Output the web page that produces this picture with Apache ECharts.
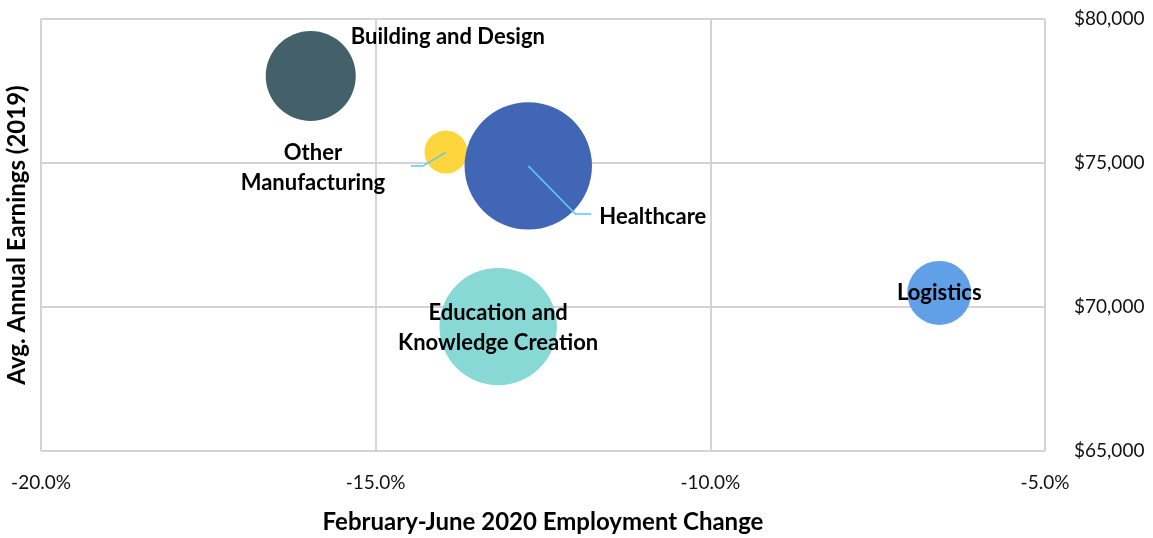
<!DOCTYPE html>
<html>
<head>
<meta charset="utf-8">
<script src="https://cdn.jsdelivr.net/npm/echarts@6/dist/echarts.min.js"></script>
<style>
html,body{margin:0;padding:0;background:#fff;}
#chart{width:1153px;height:538px;}
</style>
</head>
<body>
<div id="chart"></div>
<script>
// ---- data ----
const industries = ['Building and Design', 'Other\nManufacturing', 'Healthcare', 'Education and\nKnowledge Creation', 'Logistics'];
const employmentChange = [-15.97, -13.95, -12.72, -13.17, -6.58];   // percent
const avgEarnings = [78020, 75380, 74900, 69320, 70490];            // USD, 2019
const bubbleSize = [2025, 462, 4058, 3446, 1024];                     // relative size (area)
const colors = ['#43606B', '#FDD63E', '#4066B5', '#88D8D5', '#619FE6'];
const xTicks = [-20, -15, -10, -5];
const yTicks = [65000, 70000, 75000, 80000];

// label placement (pixel offsets from bubble centre) and leader lines
const labelStyle = [
  {offset: [40, -39], align: 'left'},
  {offset: [-133, 16], align: 'center'},
  {offset: [71, 51], align: 'left'},
  {offset: [0, 1], align: 'center'},
  {offset: [0, 0], align: 'center'}
];
const leaders = {1: [[-23, 14], [-35, 14]], 2: [[47, 48], [63, 48]]};

const FONT = 'Lato, "Open Sans", sans-serif';

const data = industries.map((name, i) => ({
  name: name,
  value: [employmentChange[i], avgEarnings[i], bubbleSize[i]],
  itemStyle: {color: colors[i], opacity: 1},
  label: {
    show: true,
    position: 'inside',
    formatter: name,
    offset: labelStyle[i].offset,
    align: labelStyle[i].align,
    verticalAlign: 'middle',
    color: '#000',
    fontFamily: FONT,
    fontWeight: 'bold',
    fontSize: 22,
    lineHeight: 30
  }
}));

const leaderData = Object.keys(leaders).map(k => [employmentChange[k], avgEarnings[k], +k]);

const chart = echarts.init(document.getElementById('chart'), null, {renderer: 'canvas'});
chart.setOption({
  animation: false,
  grid: {left: 41, right: 108, top: 19, bottom: 87, outerBoundsMode: 'none', containLabel: false},
  xAxis: {
    type: 'value', min: -20, max: -5, interval: 5,
    name: 'February-June 2020 Employment Change',
    nameLocation: 'middle', nameGap: 59,
    nameTextStyle: {fontFamily: FONT, fontWeight: 'bold', fontSize: 24, color: '#000'},
    axisLine: {show: false}, axisTick: {show: false},
    axisLabel: {formatter: v => v.toFixed(1) + '%', fontFamily: FONT, fontSize: 19, color: '#111', margin: 22},
    splitLine: {show: true, lineStyle: {color: '#d4d4d4', width: 2}}
  },
  yAxis: [{
    type: 'value', min: 65000, max: 80000, interval: 5000, position: 'right',
    axisLine: {show: false}, axisTick: {show: false},
    axisLabel: {formatter: v => '$' + v.toLocaleString('en-US'), fontFamily: FONT, fontSize: 19, color: '#111', margin: 29},
    splitLine: {show: true, lineStyle: {color: '#d4d4d4', width: 2}}
  }, {
    type: 'value', min: 65000, max: 80000, interval: 5000, position: 'left',
    name: 'Avg. Annual Earnings (2019)', nameLocation: 'middle', nameGap: 12,
    nameTextStyle: {fontFamily: FONT, fontWeight: 'bold', fontSize: 24, color: '#000'},
    axisLine: {show: false}, axisTick: {show: false}, axisLabel: {show: false}, splitLine: {show: false}
  }],
  series: [{
    type: 'scatter',
    symbol: 'circle',
    symbolSize: v => 2 * Math.sqrt(v[2]),
    data: data,
    emphasis: {disabled: true},
    z: 2
  }, {
    type: 'custom',
    data: leaderData,
    z: 3,
    renderItem: (params, api) => {
      const c = api.coord([api.value(0), api.value(1)]);
      const pts = [c].concat(leaders[api.value(2)].map(o => [c[0] + o[0], c[1] + o[1]]));
      return {type: 'polyline', shape: {points: pts}, style: {stroke: '#5BC8F5', lineWidth: 1.5, fill: null}};
    }
  }]
});
</script>
</body>
</html>
